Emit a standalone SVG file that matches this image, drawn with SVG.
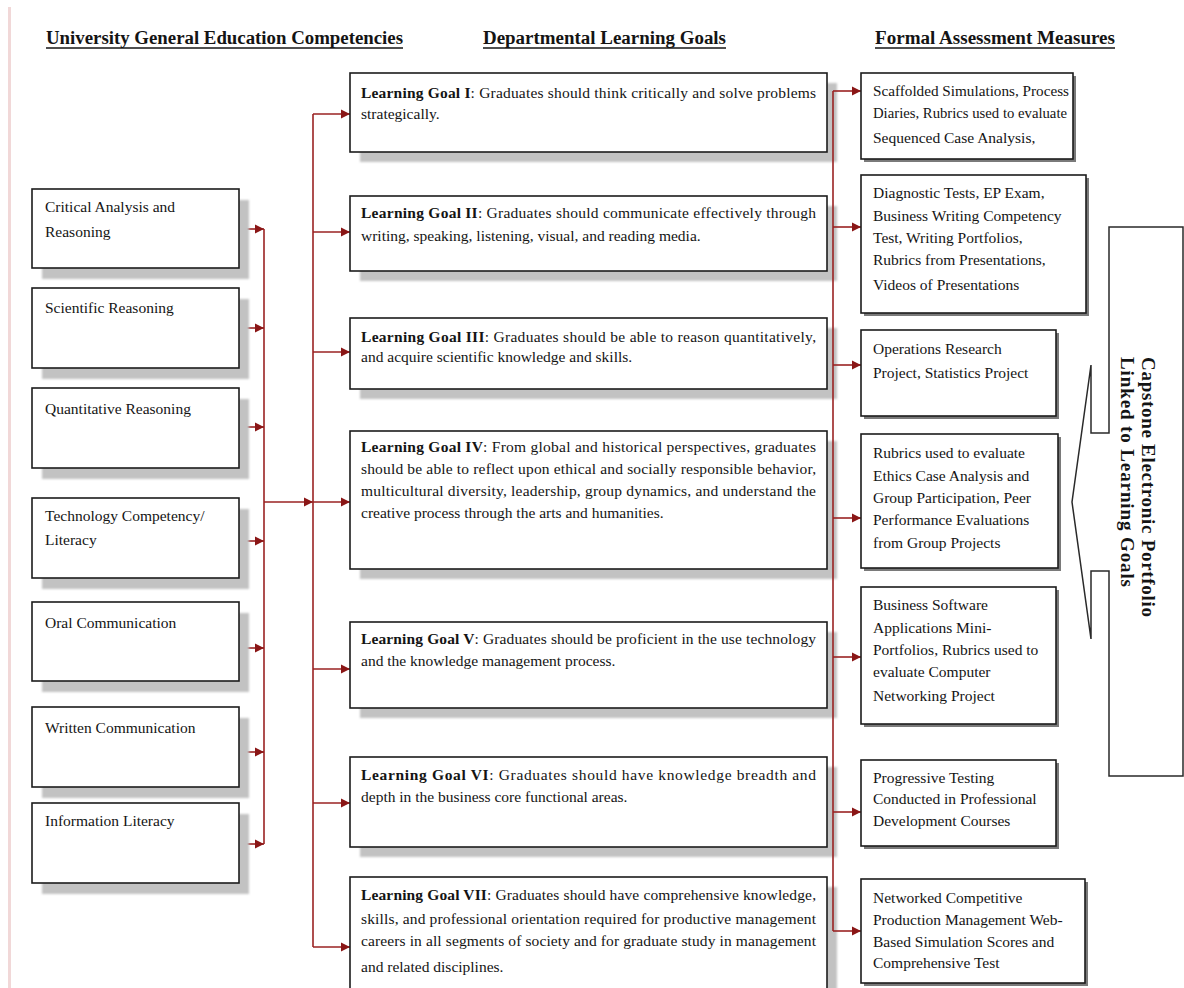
<svg xmlns="http://www.w3.org/2000/svg" width="1184" height="988" viewBox="0 0 1184 988">
  <style>
    .t { font-family: "Liberation Serif", "Times New Roman", serif; font-size: 15.5px; fill: #141414; }
    .b { font-weight: bold; }
    .h { font-family: "Liberation Serif", "Times New Roman", serif; font-size: 18px; font-weight: bold; fill: #141414; }
    .cap { font-family: "Liberation Serif", "Times New Roman", serif; font-size: 19px; font-weight: bold; fill: #141414; }
    .box { fill: #ffffff; stroke: #1c1c1c; stroke-width: 1.6; }
    .sh { fill: #c2c2c2; }
    .sh2 { fill: #7a7a7a; }
    .ul { stroke: #141414; stroke-width: 1.3; }
    .wire { fill: none; stroke: #9a2222; stroke-width: 1.6; }
    .arr { fill: none; stroke: #9a2222; stroke-width: 1.6; marker-end: url(#head); }
  </style>
  <defs>
    <marker id="head" markerUnits="userSpaceOnUse" markerWidth="10" markerHeight="10" refX="9" refY="5" orient="auto">
      <path d="M0,0.5 L9,5 L0,9.5 Z" fill="#8a1616"/>
    </marker>
    <filter id="soft" x="-5%" y="-5%" width="110%" height="110%">
      <feGaussianBlur stdDeviation="0.8"/>
    </filter>
  </defs>

  <rect width="1184" height="988" fill="#ffffff"/>
  <!-- page margin rule -->
  <line x1="9.5" y1="7" x2="9.5" y2="988" stroke="#f1d8d8" stroke-width="3"/>

  <!-- column headings -->
  <g id="headings">
    <text class="h" x="46" y="44" textLength="357" lengthAdjust="spacingAndGlyphs">University General Education Competencies</text>
    <line class="ul" x1="46" y1="48" x2="403" y2="48"/>
    <text class="h" x="483" y="44" textLength="243" lengthAdjust="spacingAndGlyphs">Departmental Learning Goals</text>
    <line class="ul" x1="483" y1="48" x2="726" y2="48"/>
    <text class="h" x="875" y="44" textLength="240" lengthAdjust="spacingAndGlyphs">Formal Assessment Measures</text>
    <line class="ul" x1="875" y1="48" x2="1115" y2="48"/>
  </g>

  <!-- connectors -->
  <g id="connectors">
    <!-- competencies into the left trunk -->
    <line class="wire" x1="264" y1="229" x2="264" y2="844"/>
    <line class="arr" x1="240" y1="229" x2="264" y2="229"/>
    <line class="arr" x1="240" y1="328" x2="264" y2="328"/>
    <line class="arr" x1="240" y1="427" x2="264" y2="427"/>
    <line class="arr" x1="240" y1="541" x2="264" y2="541"/>
    <line class="arr" x1="240" y1="648" x2="264" y2="648"/>
    <line class="arr" x1="240" y1="752" x2="264" y2="752"/>
    <line class="arr" x1="240" y1="844" x2="264" y2="844"/>
    <!-- left trunk to goal trunk -->
    <line class="arr" x1="264" y1="502" x2="313" y2="502"/>
    <line class="wire" x1="313" y1="114" x2="313" y2="947"/>
    <!-- goal trunk into each goal -->
    <line class="arr" x1="313" y1="114" x2="350" y2="114"/>
    <line class="arr" x1="313" y1="232" x2="350" y2="232"/>
    <line class="arr" x1="313" y1="352" x2="350" y2="352"/>
    <line class="arr" x1="313" y1="502" x2="350" y2="502"/>
    <line class="arr" x1="313" y1="669" x2="350" y2="669"/>
    <line class="arr" x1="313" y1="803" x2="350" y2="803"/>
    <line class="arr" x1="313" y1="947" x2="350" y2="947"/>
  </g>

  <!-- University General Education Competencies -->
  <g id="comp-critical">
    <rect class="sh" x="42" y="200" width="207" height="79" filter="url(#soft)"/>
    <rect class="box" x="32" y="189" width="207" height="79"/>
    <text class="t" x="45" y="212">Critical Analysis and</text>
    <text class="t" x="45" y="237">Reasoning</text>
  </g>
  <g id="comp-scientific">
    <rect class="sh" x="42" y="299" width="207" height="80" filter="url(#soft)"/>
    <rect class="box" x="32" y="288" width="207" height="80"/>
    <text class="t" x="45" y="313">Scientific Reasoning</text>
  </g>
  <g id="comp-quantitative">
    <rect class="sh" x="42" y="399" width="207" height="80" filter="url(#soft)"/>
    <rect class="box" x="32" y="388" width="207" height="80"/>
    <text class="t" x="45" y="414">Quantitative Reasoning</text>
  </g>
  <g id="comp-technology">
    <rect class="sh" x="42" y="509" width="207" height="80" filter="url(#soft)"/>
    <rect class="box" x="32" y="498" width="207" height="80"/>
    <text class="t" x="45" y="521">Technology Competency/</text>
    <text class="t" x="45" y="545">Literacy</text>
  </g>
  <g id="comp-oral">
    <rect class="sh" x="42" y="613" width="207" height="79" filter="url(#soft)"/>
    <rect class="box" x="32" y="602" width="207" height="79"/>
    <text class="t" x="45" y="628">Oral Communication</text>
  </g>
  <g id="comp-written">
    <rect class="sh" x="42" y="718" width="207" height="80" filter="url(#soft)"/>
    <rect class="box" x="32" y="707" width="207" height="80"/>
    <text class="t" x="45" y="733">Written Communication</text>
  </g>
  <g id="comp-information">
    <rect class="sh" x="42" y="814" width="207" height="80" filter="url(#soft)"/>
    <rect class="box" x="32" y="803" width="207" height="80"/>
    <text class="t" x="45" y="826">Information Literacy</text>
  </g>

  <!-- Departmental Learning Goals -->
  <g id="goal-1">
    <rect class="sh" x="360" y="83" width="477" height="79" filter="url(#soft)"/>
    <rect class="box" x="350" y="73" width="477" height="79"/>
    <text class="t" x="361" y="98" textLength="455" lengthAdjust="spacing"><tspan class="b">Learning Goal I</tspan>: Graduates should think critically and solve problems</text>
    <text class="t" x="361" y="119">strategically.</text>
  </g>
  <g id="goal-2">
    <rect class="sh" x="360" y="206" width="477" height="75" filter="url(#soft)"/>
    <rect class="box" x="350" y="196" width="477" height="75"/>
    <text class="t" x="361" y="218" textLength="455" lengthAdjust="spacing"><tspan class="b">Learning Goal II</tspan>: Graduates should communicate effectively through</text>
    <text class="t" x="361" y="241">writing, speaking, listening, visual, and reading media.</text>
  </g>
  <g id="goal-3">
    <rect class="sh" x="360" y="328" width="477" height="71" filter="url(#soft)"/>
    <rect class="box" x="350" y="318" width="477" height="71"/>
    <text class="t" x="361" y="342" textLength="455" lengthAdjust="spacing"><tspan class="b">Learning Goal III</tspan>: Graduates should be able to reason quantitatively,</text>
    <text class="t" x="361" y="362">and acquire scientific knowledge and skills.</text>
  </g>
  <g id="goal-4">
    <rect class="sh" x="360" y="441" width="477" height="138" filter="url(#soft)"/>
    <rect class="box" x="350" y="431" width="477" height="138"/>
    <text class="t" x="361" y="452" textLength="455" lengthAdjust="spacing"><tspan class="b">Learning Goal IV</tspan>: From global and historical perspectives, graduates</text>
    <text class="t" x="361" y="474" textLength="455" lengthAdjust="spacing">should be able to reflect upon ethical and socially responsible behavior,</text>
    <text class="t" x="361" y="496" textLength="455" lengthAdjust="spacing">multicultural diversity, leadership, group dynamics, and understand the</text>
    <text class="t" x="361" y="518">creative process through the arts and humanities.</text>
  </g>
  <g id="goal-5">
    <rect class="sh" x="360" y="632" width="477" height="86" filter="url(#soft)"/>
    <rect class="box" x="350" y="622" width="477" height="86"/>
    <text class="t" x="361" y="644" textLength="455" lengthAdjust="spacing"><tspan class="b">Learning Goal V</tspan>: Graduates should be proficient in the use technology</text>
    <text class="t" x="361" y="666">and the knowledge management process.</text>
  </g>
  <g id="goal-6">
    <rect class="sh" x="360" y="767" width="477" height="90" filter="url(#soft)"/>
    <rect class="box" x="350" y="757" width="477" height="90"/>
    <text class="t" x="361" y="780" textLength="455" lengthAdjust="spacing"><tspan class="b">Learning Goal VI</tspan>: Graduates should have knowledge breadth and</text>
    <text class="t" x="361" y="802">depth in the business core functional areas.</text>
  </g>
  <g id="goal-7">
    <rect class="sh" x="360" y="887" width="477" height="120" filter="url(#soft)"/>
    <rect class="box" x="350" y="877" width="477" height="120"/>
    <text class="t" x="361" y="900" textLength="455" lengthAdjust="spacing"><tspan class="b">Learning Goal VII</tspan>: Graduates should have comprehensive knowledge,</text>
    <text class="t" x="361" y="924" textLength="455" lengthAdjust="spacing">skills, and professional orientation required for productive management</text>
    <text class="t" x="361" y="946" textLength="455" lengthAdjust="spacing">careers in all segments of society and for graduate study in management</text>
    <text class="t" x="361" y="972">and related disciplines.</text>
  </g>

  <!-- goals trunk to assessment measures -->
  <g id="connectors-right">
    <line class="wire" x1="833" y1="91" x2="833" y2="931"/>
    <line class="arr" x1="833" y1="91" x2="861" y2="91"/>
    <line class="arr" x1="833" y1="227" x2="861" y2="227"/>
    <line class="arr" x1="833" y1="365" x2="861" y2="365"/>
    <line class="arr" x1="833" y1="518" x2="861" y2="518"/>
    <line class="arr" x1="833" y1="657" x2="861" y2="657"/>
    <line class="arr" x1="833" y1="812" x2="861" y2="812"/>
    <line class="arr" x1="833" y1="931" x2="861" y2="931"/>
  </g>

  <!-- Formal Assessment Measures -->
  <g id="measure-1">
    <rect class="sh2" x="864" y="76" width="212" height="86"/>
    <rect class="box" x="861" y="73" width="212" height="86"/>
    <text class="t" x="873" y="96" textLength="196" lengthAdjust="spacingAndGlyphs">Scaffolded Simulations, Process</text>
    <text class="t" x="873" y="118" textLength="194" lengthAdjust="spacingAndGlyphs">Diaries, Rubrics used to evaluate</text>
    <text class="t" x="873" y="143">Sequenced Case Analysis,</text>
  </g>
  <g id="measure-2">
    <rect class="sh2" x="864" y="178" width="225" height="138"/>
    <rect class="box" x="861" y="175" width="225" height="138"/>
    <text class="t" x="873" y="198">Diagnostic Tests, EP Exam,</text>
    <text class="t" x="873" y="221">Business Writing Competency</text>
    <text class="t" x="873" y="243">Test, Writing Portfolios,</text>
    <text class="t" x="873" y="265">Rubrics from Presentations,</text>
    <text class="t" x="873" y="290">Videos of Presentations</text>
  </g>
  <g id="measure-3">
    <rect class="sh2" x="864" y="333" width="195" height="86"/>
    <rect class="box" x="861" y="330" width="195" height="86"/>
    <text class="t" x="873" y="354">Operations Research</text>
    <text class="t" x="873" y="378">Project, Statistics Project</text>
  </g>
  <g id="measure-4">
    <rect class="sh2" x="864" y="437" width="197" height="134"/>
    <rect class="box" x="861" y="434" width="197" height="134"/>
    <text class="t" x="873" y="458">Rubrics used to evaluate</text>
    <text class="t" x="873" y="481">Ethics Case Analysis and</text>
    <text class="t" x="873" y="503">Group Participation, Peer</text>
    <text class="t" x="873" y="525">Performance Evaluations</text>
    <text class="t" x="873" y="548">from Group Projects</text>
  </g>
  <g id="measure-5">
    <rect class="sh2" x="864" y="590" width="195" height="137"/>
    <rect class="box" x="861" y="587" width="195" height="137"/>
    <text class="t" x="873" y="610">Business Software</text>
    <text class="t" x="873" y="633">Applications Mini-</text>
    <text class="t" x="873" y="655">Portfolios, Rubrics used to</text>
    <text class="t" x="873" y="677">evaluate Computer</text>
    <text class="t" x="873" y="701">Networking Project</text>
  </g>
  <g id="measure-6">
    <rect class="sh2" x="864" y="763" width="195" height="86"/>
    <rect class="box" x="861" y="760" width="195" height="86"/>
    <text class="t" x="873" y="783">Progressive Testing</text>
    <text class="t" x="873" y="804">Conducted in Professional</text>
    <text class="t" x="873" y="826">Development Courses</text>
  </g>
  <g id="measure-7">
    <rect class="sh2" x="864" y="882" width="224" height="104"/>
    <rect class="box" x="861" y="879" width="224" height="104"/>
    <text class="t" x="873" y="903">Networked Competitive</text>
    <text class="t" x="873" y="925">Production Management Web-</text>
    <text class="t" x="873" y="947">Based Simulation Scores and</text>
    <text class="t" x="873" y="968">Comprehensive Test</text>
  </g>

  <!-- capstone portfolio callout pointing back at the measures -->
  <g id="capstone">
    <path d="M1109,227 H1183 V776 H1109 V571 H1091 V639 L1072,502 L1091,365 V433 H1109 Z" fill="#ffffff" stroke="#2a2a2a" stroke-width="1.5" stroke-linejoin="miter"/>
    <text class="cap" transform="translate(1142,357) rotate(90)" textLength="260" lengthAdjust="spacing">Capstone Electronic Portfolio</text>
    <text class="cap" transform="translate(1121,357) rotate(90)" textLength="230" lengthAdjust="spacing">Linked to Learning Goals</text>
  </g>
</svg>
